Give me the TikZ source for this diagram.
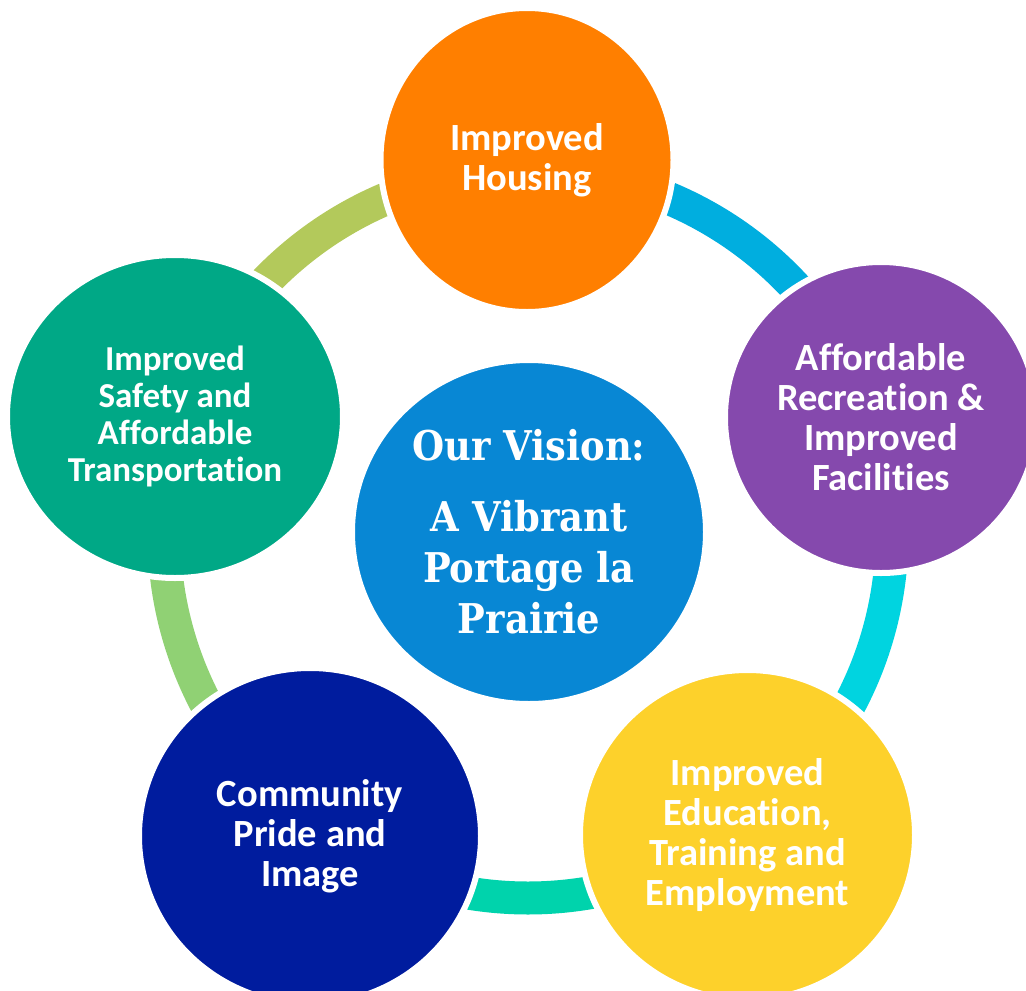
\documentclass[tikz,border=0pt]{standalone}
\usepackage{fontspec}
\usetikzlibrary{shapes.geometric}
\newfontfamily\labelfont{Carlito}[Ligatures=NoCommon]
\IfFontExistsTF{DejaVu Serif Condensed}
  {\newfontfamily\visionfont{DejaVu Serif Condensed}\newcommand\visionsize{\fontsize{41}{51}}}
  {\newfontfamily\visionfont{Liberation Serif}\newcommand\visionsize{\fontsize{46}{51}}}

\definecolor{cOrange}{HTML}{FF7F00}
\definecolor{cPurple}{HTML}{8549AD}
\definecolor{cYellow}{HTML}{FDD12B}
\definecolor{cNavy}{HTML}{001C9E}
\definecolor{cTeal}{HTML}{00A886}
\definecolor{cCentre}{HTML}{0887D4}
\definecolor{segTL}{HTML}{B3C95B}
\definecolor{segTR}{HTML}{00AEDF}
\definecolor{segR}{HTML}{00D4E0}
\definecolor{segB}{HTML}{00D3AC}
\definecolor{segL}{HTML}{90D174}

\begin{document}
\begin{tikzpicture}[x=1pt,y=-1pt,
  goal/.style={ellipse, draw=white, line width=6pt, inner sep=0pt,
    text=white, align=center,
    font=\labelfont\bfseries\fontsize{38.5}{40}\selectfont},
  vision/.style={goal, font=\visionfont\bfseries\visionsize\selectfont},
  link/.style={line width=33pt}]
\useasboundingbox (0,0) rectangle (1026,991);
\clip (0,0) rectangle (1026,991);

% ring through the five goals
\coordinate (ring) at (528,534);
\path (ring) ++(-90:364) coordinate (r1)
      (ring) ++(-18:364) coordinate (r2)
      (ring) ++(54:364)  coordinate (r3)
      (ring) ++(126:364) coordinate (r4)
      (ring) ++(198:364) coordinate (r5);
\draw[link, segTR] (r1) arc[start angle=-90, end angle=-18, radius=364];
\draw[link, segR]  (r2) arc[start angle=-18, end angle=54,  radius=364];
\draw[link, segB]  (r3) arc[start angle=54,  end angle=126, radius=364];
\draw[link, segL]  (r4) arc[start angle=126, end angle=198, radius=364];
\draw[link, segTL] (r5) arc[start angle=198, end angle=270, radius=364];

% goals
\node[goal, fill=cOrange, minimum width=293pt, minimum height=304pt] (housing) at (527,160)
  {Improved\\Housing};
\node[goal, fill=cPurple, minimum width=312pt, minimum height=311pt] (recreation) at (881,417.5)
  {Affordable\\Recreation \&\\Improved\\Facilities};
\node[goal, fill=cYellow, minimum width=335pt, minimum height=330pt] (education) at (747.5,835)
  {Improved\\Education,\\Training and\\Employment};
\node[goal, fill=cNavy, minimum width=342pt, minimum height=336pt] (pride) at (310,836)
  {Community\\Pride and\\Image};
\node[goal, fill=cTeal, minimum width=336pt, minimum height=323pt,
  font=\labelfont\bfseries\fontsize{35}{37}\selectfont] (safety) at (175,416.5)
  {Improved\\Safety and\\Affordable\\Transportation};

% vision at the centre
\node[vision, fill=cCentre, minimum width=354pt, minimum height=344pt] (vision) at (529,532)
  {Our Vision:\\[20pt]A Vibrant\\Portage la\\Prairie};
\end{tikzpicture}
\end{document}
